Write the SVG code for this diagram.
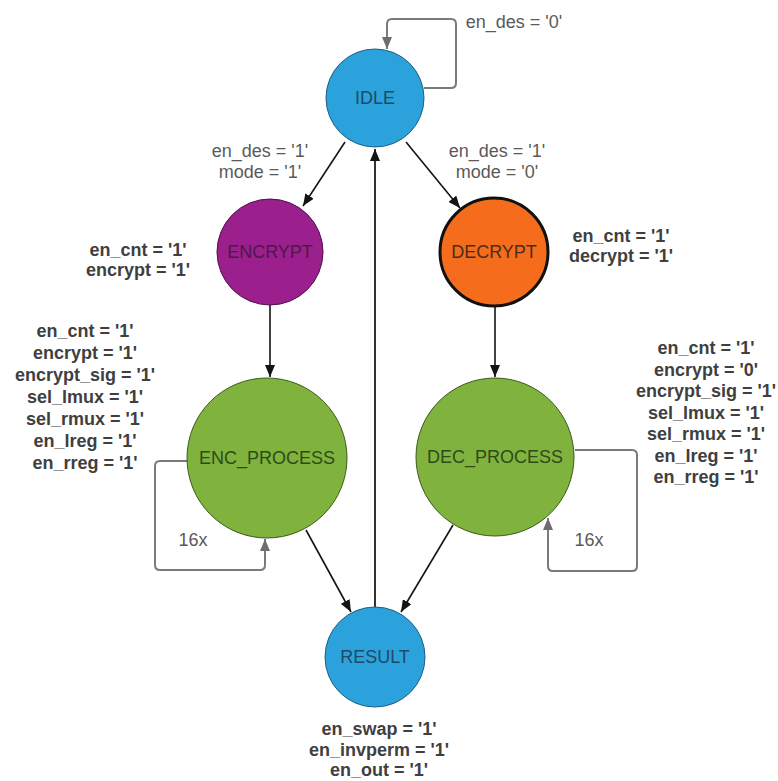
<svg xmlns="http://www.w3.org/2000/svg" width="778" height="781" viewBox="0 0 778 781">
<defs>
<style>
text{font-family:"Liberation Sans",Arial,sans-serif;font-size:18px}
.lbl{fill:#5a5a5a;text-anchor:middle}
.out{fill:#3f3f3f;font-weight:bold;text-anchor:middle}
.name{text-anchor:middle;dominant-baseline:central}
.edge{fill:none;stroke:#141414;stroke-width:1.6}
.loop{fill:none;stroke:#7a7a7a;stroke-width:2}
</style>
<marker id="ah" markerUnits="userSpaceOnUse" viewBox="0 0 12 10" refX="12" refY="5" markerWidth="12" markerHeight="10" orient="auto"><path d="M0,0 L12,5 L0,10 z" fill="#141414"/></marker>
<marker id="ahg" markerUnits="userSpaceOnUse" viewBox="0 0 12 10" refX="12" refY="5" markerWidth="12" markerHeight="10" orient="auto"><path d="M0,0 L12,5 L0,10 z" fill="#6e6e6e"/></marker>
</defs>
<rect width="778" height="781" fill="#ffffff"/>
<g id="connectors">
<path class="loop" d="M424,88 H451 Q456,88 456,83 V24 Q456,19 451,19 H392 Q387,19 387,24 V49" marker-end="url(#ahg)"/>
<path class="edge" d="M345,142 L303,206" marker-end="url(#ah)"/>
<path class="edge" d="M406,142 L460,208" marker-end="url(#ah)"/>
<path class="edge" d="M270,305 V377" marker-end="url(#ah)"/>
<path class="edge" d="M495,306 V377" marker-end="url(#ah)"/>
<path class="loop" d="M188,461 H160 Q155,461 155,466 V565 Q155,570 160,570 H260 Q265,570 265,565 V539" marker-end="url(#ahg)"/>
<path class="loop" d="M575,450 H632 Q637,450 637,455 V566 Q637,571 632,571 H553 Q548,571 548,566 V518" marker-end="url(#ahg)"/>
<path class="edge" d="M306,530 L351,612" marker-end="url(#ah)"/>
<path class="edge" d="M453,525 L401,612" marker-end="url(#ah)"/>
<path class="edge" style="stroke:#333;stroke-width:2" d="M375,607 V149" marker-end="url(#ah)"/>
</g>
<g id="edge-labels">
<text class="lbl" x="514" y="28">en_des = '0'</text>
<text class="lbl" x="260" y="157">en_des = '1'</text>
<text class="lbl" x="260" y="178">mode = '1'</text>
<text class="lbl" x="497" y="157">en_des = '1'</text>
<text class="lbl" x="497" y="178">mode = '0'</text>
<text class="lbl" x="193" y="546">16x</text>
<text class="lbl" x="589" y="546">16x</text>
</g>
<g id="IDLE">
<circle cx="375" cy="98" r="49" fill="#2ba2dc" stroke="#1e5f82" stroke-width="1"/>
<text class="name" x="375" y="98" fill="#1f4a66">IDLE</text>
</g>
<g id="ENCRYPT">
<circle cx="270" cy="252" r="53" fill="#9b1f8d" stroke="#4e1046" stroke-width="1"/>
<text class="name" x="270" y="252" fill="#4f1848">ENCRYPT</text>
<text class="out" x="138" y="256">en_cnt = '1'</text>
<text class="out" x="138" y="276">encrypt = '1'</text>
</g>
<g id="DECRYPT">
<circle cx="494" cy="252" r="54" fill="#f56d1c" stroke="#111" stroke-width="3"/>
<text class="name" x="494" y="252" fill="#4c2c18">DECRYPT</text>
<text class="out" x="621" y="242">en_cnt = '1'</text>
<text class="out" x="621" y="262">decrypt = '1'</text>
</g>
<g id="ENC_PROCESS">
<circle cx="267" cy="458" r="80" fill="#7fb33d" stroke="#3c5a1c" stroke-width="1"/>
<text class="name" x="267" y="458" fill="#2f4a1a">ENC_PROCESS</text>
<text class="out" x="85" y="337">en_cnt = '1'</text>
<text class="out" x="85" y="359">encrypt = '1'</text>
<text class="out" x="85" y="381">encrypt_sig = '1'</text>
<text class="out" x="85" y="403">sel_lmux = '1'</text>
<text class="out" x="85" y="425">sel_rmux = '1'</text>
<text class="out" x="85" y="447">en_lreg = '1'</text>
<text class="out" x="85" y="469">en_rreg = '1'</text>
</g>
<g id="DEC_PROCESS">
<circle cx="495" cy="457" r="79" fill="#7fb33d" stroke="#3c5a1c" stroke-width="1"/>
<text class="name" x="495" y="457" fill="#2f4a1a">DEC_PROCESS</text>
<text class="out" x="706" y="354">en_cnt = '1'</text>
<text class="out" x="706" y="376">encrypt = '0'</text>
<text class="out" x="706" y="397">encrypt_sig = '1'</text>
<text class="out" x="706" y="419">sel_lmux = '1'</text>
<text class="out" x="706" y="440">sel_rmux = '1'</text>
<text class="out" x="706" y="462">en_lreg = '1'</text>
<text class="out" x="706" y="483">en_rreg = '1'</text>
</g>
<g id="RESULT">
<circle cx="375" cy="657" r="50" fill="#2ba2dc" stroke="#1e5f82" stroke-width="1"/>
<text class="name" x="375" y="657" fill="#1f4a66">RESULT</text>
<text class="out" x="379" y="735">en_swap = '1'</text>
<text class="out" x="379" y="756">en_invperm = '1'</text>
<text class="out" x="379" y="776">en_out = '1'</text>
</g>
</svg>
